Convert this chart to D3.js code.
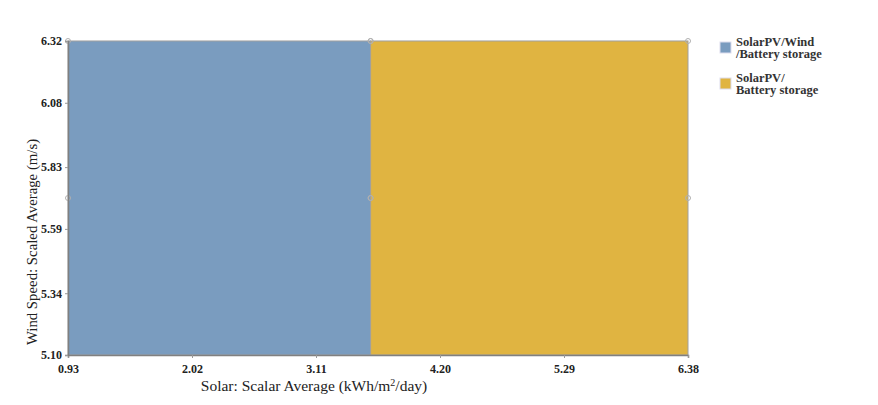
<!DOCTYPE html>
<html><head><meta charset="utf-8">
<script src="https://cdn.jsdelivr.net/npm/d3@7"></script>
<style>body{margin:0;background:#fff;}svg{display:block;font-family:"Liberation Serif","Times New Roman",serif;}</style>
</head><body><svg id="c" width="878" height="405"></svg>
<script>
const xTicks = [0.93, 2.02, 3.11, 4.20, 5.29, 6.38];
const yTicks = [5.10, 5.34, 5.59, 5.83, 6.08, 6.32];
const regionNames = ["SolarPV/Wind/Battery storage", "SolarPV/Battery storage"];
const regionLegendLines = [["SolarPV/Wind", "/Battery storage"], ["SolarPV/", "Battery storage"]];
const regionSolarStart = [0.93, 3.59];
const regionSolarEnd = [3.59, 6.38];
const regionWindStart = [5.10, 5.10];
const regionWindEnd = [6.32, 6.32];
const regionColors = ["#7a9cbf", "#e0b441"];

const svg = d3.select("#c");
const m = {l: 68, r: 190, t: 41, b: 50};
const W = 878, H = 405;
const x = d3.scaleLinear().domain([0.93, 6.38]).range([m.l, W - m.r]);
const y = d3.scaleLinear().domain([5.10, 6.32]).range([H - m.b, m.t]);

// faint gridlines
svg.append("g").selectAll("line").data(yTicks).join("line")
  .attr("x1", x(0.93)).attr("x2", x(6.38)).attr("y1", d => y(d)).attr("y2", d => y(d))
  .attr("stroke", "#f0f0f0");

const regions = regionNames.map((n, i) => ({n, x0: regionSolarStart[i], x1: regionSolarEnd[i], y0: regionWindStart[i], y1: regionWindEnd[i], c: regionColors[i]}));
svg.append("g").selectAll("rect").data(regions).join("rect")
  .attr("x", d => x(d.x0)).attr("width", d => x(d.x1) - x(d.x0))
  .attr("y", d => y(d.y1)).attr("height", d => y(d.y0) - y(d.y1))
  .attr("fill", d => d.c).attr("stroke", "#a0a0a0").attr("stroke-width", 1);

// vertex markers
const marks = [];
regions.forEach(r => {
  marks.push([r.x0, r.y1], [r.x1, r.y1], [r.x0, (r.y0 + r.y1) / 2], [r.x1, (r.y0 + r.y1) / 2]);
});
svg.append("g").selectAll("circle").data(marks).join("circle")
  .attr("cx", d => x(d[0])).attr("cy", d => y(d[1])).attr("r", 2.5)
  .attr("fill", "none").attr("stroke", "#b0b0b0").attr("stroke-width", 1);

// axes
const xa = svg.append("g").attr("transform", `translate(0,${y(5.10)})`)
  .call(d3.axisBottom(x).tickValues(xTicks).tickFormat(d3.format(".2f")).tickSize(3).tickPadding(6));
const ya = svg.append("g").attr("transform", `translate(${x(0.93)},0)`)
  .call(d3.axisLeft(y).tickValues(yTicks).tickFormat(d3.format(".2f")).tickSize(3).tickPadding(3));
[xa, ya].forEach(a => {
  a.select(".domain").attr("stroke", "#808080").attr("stroke-width", 1.5);
  a.selectAll(".tick line").attr("stroke", "#999");
  a.selectAll("text").attr("font-family", "Liberation Serif").attr("font-size", 12)
    .attr("font-weight", "bold").attr("fill", "#222");
});

svg.append("text").attr("x", 314).attr("y", 391).attr("text-anchor", "middle")
  .attr("font-size", 15.5).attr("fill", "#222")
  .html('Solar: Scalar Average (kWh/m<tspan baseline-shift="super" font-size="10">2</tspan>/day)');
svg.append("text").attr("transform", `translate(37,242) rotate(-90)`)
  .attr("text-anchor", "middle").attr("font-size", 14.8).attr("fill", "#222")
  .text("Wind Speed: Scaled Average (m/s)");

// legend
const lg = svg.append("g").attr("transform", "translate(720,42)");
regions.forEach((r, i) => {
  const g = lg.append("g").attr("transform", `translate(0,${i * 36})`);
  g.append("rect").attr("x", 0).attr("y", 0).attr("width", 11).attr("height", 11)
    .attr("fill", r.c).attr("stroke", "#dde").attr("stroke-width", 1);
  regionLegendLines[i].forEach((t, j) => {
    g.append("text").attr("x", 16).attr("y", 3.5 + j * 12.5).attr("font-size", 12.5)
      .attr("font-weight", "bold").attr("fill", "#333").text(t);
  });
});
</script></body></html>
